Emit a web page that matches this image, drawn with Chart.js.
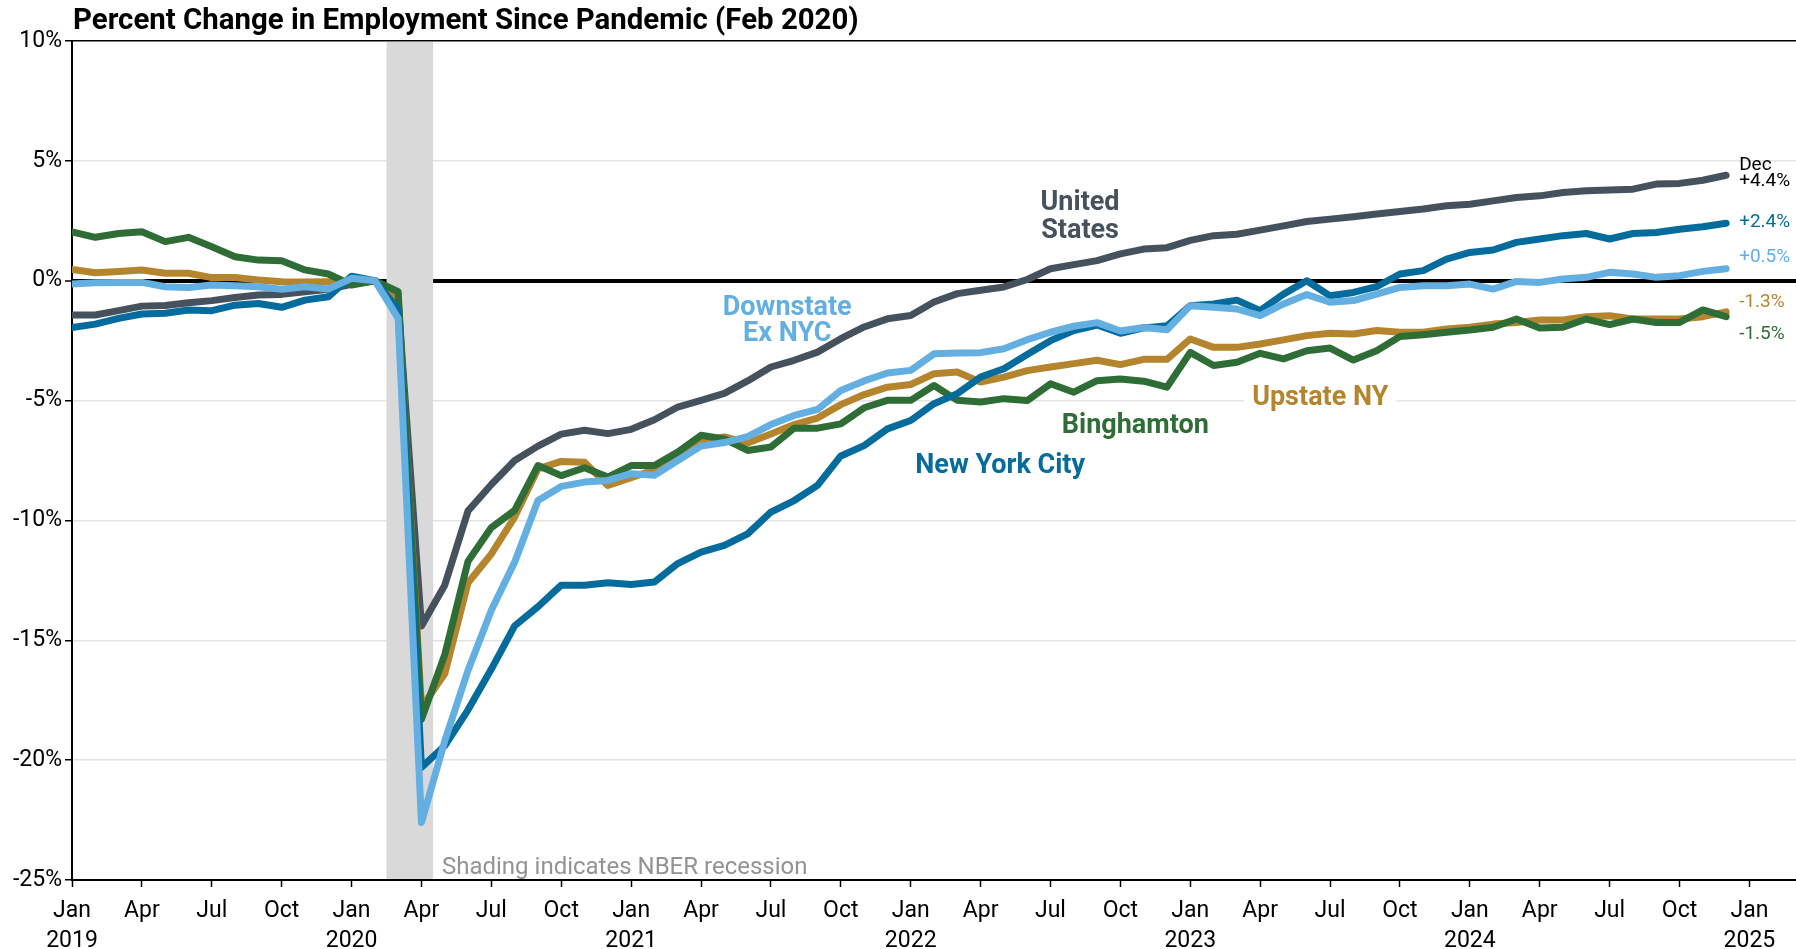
<!DOCTYPE html>
<html>
<head>
<meta charset="utf-8">
<script src="https://cdn.jsdelivr.net/npm/chart.js@4.4.1/dist/chart.umd.min.js"></script>
<style>
  html, body { margin: 0; padding: 0; background: #fff; }
  #wrap { width: 1796px; height: 949px; }
</style>
</head>
<body>
<div id="wrap"><canvas id="line-chart"></canvas></div>
<script>
// monthly, Jan 2019 .. Dec 2024, % change vs Feb 2020
const unitedStates = [
  -1.43,-1.43,-1.25,-1.06,-1.03,-0.92,-0.83,-0.70,-0.60,-0.57,-0.46,-0.36,
  -0.15,0,-0.9,-14.4,-12.7,-9.6,-8.5,-7.5,-6.9,-6.4,-6.24,-6.38,
  -6.2,-5.8,-5.27,-4.99,-4.7,-4.18,-3.6,-3.32,-2.98,-2.42,-1.93,-1.59,
  -1.45,-0.89,-0.54,-0.4,-0.26,0.05,0.5,0.67,0.84,1.12,1.32,1.38,
  1.68,1.88,1.94,2.11,2.29,2.47,2.57,2.67,2.78,2.89,2.99,3.13,
  3.19,3.33,3.47,3.54,3.68,3.75,3.78,3.82,4.03,4.06,4.19,4.4
];
const newYorkCity = [
  -1.95,-1.81,-1.57,-1.39,-1.36,-1.22,-1.25,-1.02,-0.95,-1.11,-0.81,-0.67,
  0.19,0,-1.2,-20.3,-19.4,-17.9,-16.2,-14.4,-13.6,-12.7,-12.7,-12.6,
  -12.67,-12.57,-11.8,-11.32,-11.04,-10.56,-9.65,-9.17,-8.54,-7.31,-6.88,-6.18,
  -5.83,-5.13,-4.71,-4.02,-3.67,-3.08,-2.5,-2.08,-1.85,-2.19,-1.97,-1.88,
  -1.04,-0.97,-0.81,-1.25,-0.56,0.0,-0.63,-0.49,-0.25,0.28,0.42,0.9,
  1.18,1.28,1.6,1.74,1.88,1.97,1.74,1.97,2.01,2.15,2.25,2.4
];
const downstateExNyc = [
  -0.14,-0.08,-0.07,-0.07,-0.25,-0.28,-0.18,-0.21,-0.25,-0.36,-0.25,-0.35,
  0.1,0,-1.57,-22.6,-19.2,-16.25,-13.75,-11.74,-9.17,-8.58,-8.4,-8.33,
  -8.05,-8.12,-7.5,-6.9,-6.75,-6.5,-6.0,-5.62,-5.37,-4.58,-4.18,-3.85,
  -3.74,-3.05,-3.02,-3.0,-2.84,-2.46,-2.15,-1.9,-1.75,-2.1,-1.95,-2.05,
  -1.04,-1.11,-1.18,-1.46,-0.97,-0.58,-0.9,-0.83,-0.56,-0.28,-0.21,-0.21,
  -0.14,-0.35,-0.03,-0.07,0.07,0.14,0.35,0.28,0.14,0.21,0.39,0.5
];
const upstateNy = [
  0.47,0.33,0.38,0.45,0.31,0.31,0.13,0.13,0.03,-0.04,-0.05,-0.04,
  -0.05,0,-0.7,-17.8,-16.4,-12.6,-11.4,-9.86,-7.85,-7.54,-7.57,-8.54,
  -8.22,-7.88,-7.25,-6.65,-6.52,-6.77,-6.39,-6.0,-5.73,-5.17,-4.75,-4.44,
  -4.33,-3.88,-3.81,-4.23,-4.02,-3.75,-3.6,-3.46,-3.32,-3.5,-3.28,-3.28,
  -2.43,-2.78,-2.78,-2.64,-2.47,-2.29,-2.19,-2.22,-2.08,-2.15,-2.15,-2.01,
  -1.94,-1.81,-1.74,-1.64,-1.64,-1.5,-1.46,-1.6,-1.6,-1.6,-1.5,-1.3
];
const binghamton = [
  2.04,1.81,1.97,2.04,1.63,1.81,1.42,1.0,0.86,0.83,0.45,0.28,
  -0.18,0,-0.46,-18.3,-15.6,-11.7,-10.3,-9.58,-7.71,-8.13,-7.8,-8.19,
  -7.71,-7.71,-7.15,-6.45,-6.6,-7.08,-6.94,-6.15,-6.15,-5.97,-5.3,-4.99,
  -4.99,-4.37,-4.99,-5.06,-4.92,-5.0,-4.3,-4.65,-4.17,-4.1,-4.19,-4.44,
  -2.99,-3.54,-3.4,-3.03,-3.26,-2.92,-2.81,-3.31,-2.92,-2.33,-2.25,-2.15,
  -2.06,-1.94,-1.6,-1.97,-1.94,-1.6,-1.83,-1.6,-1.74,-1.74,-1.22,-1.5
];

// x ticks every 3 months from Jan 2019 (month index 0) to Jan 2025 (72)
const xTickLabels = [
  ['Jan','2019'],'Apr','Jul','Oct',
  ['Jan','2020'],'Apr','Jul','Oct',
  ['Jan','2021'],'Apr','Jul','Oct',
  ['Jan','2022'],'Apr','Jul','Oct',
  ['Jan','2023'],'Apr','Jul','Oct',
  ['Jan','2024'],'Apr','Jul','Oct',
  ['Jan','2025']
];
const yTicks = [-25, -20, -15, -10, -5, 0, 5, 10];
const recession = [13.5, 15.5]; // Feb-Apr 2020 (month index)

const colors = {
  us: '#45525d',
  nyc: '#046c9d',
  down: '#63afe2',
  up: '#b5852e',
  bing: '#2e6d35'
};

const toPoints = arr => arr.map((v, i) => ({x: i, y: v}));

// series labels (month index, percent)
const seriesLabels = [
  {lines: ['United', 'States'], color: colors.us, x: 43.27, y: 3.22, step: 1.16},
  {lines: ['Downstate', 'Ex NYC'], color: colors.down, x: 30.7, y: -1.16, step: 1.08},
  {lines: ['New York City'], color: colors.nyc, x: 39.84, y: -7.75},
  {lines: ['Binghamton'], color: colors.bing, x: 45.64, y: -6.08},
  {lines: ['Upstate NY'], color: colors.up, x: 53.58, y: -4.9, bg: true}
];
const endLabels = [
  {data: unitedStates, color: '#000', y: 4.13},
  {data: newYorkCity, color: colors.nyc, y: 2.43},
  {data: downstateExNyc, color: colors.down, y: 0.98},
  {data: upstateNy, color: colors.up, y: -0.89},
  {data: binghamton, color: colors.bing, y: -2.22}
];

const extras = {
  id: 'extras',
  beforeDatasetsDraw(chart) {
    const {ctx, chartArea: a, scales: {x}} = chart;
    const x0 = x.getPixelForValue(recession[0]);
    const x1 = x.getPixelForValue(recession[1]);
    ctx.save();
    ctx.fillStyle = '#d9d9d9';
    ctx.fillRect(x0, a.top + 1, x1 - x0, a.bottom - a.top - 2);
    ctx.restore();
  },
  afterDatasetsDraw(chart) {
    const {ctx, chartArea: a, scales: {x, y}} = chart;
    ctx.save();

    // title
    ctx.fillStyle = '#000';
    ctx.textAlign = 'left';
    ctx.textBaseline = 'alphabetic';
    ctx.font = '700 29.4px Roboto';
    ctx.fillText('Percent Change in Employment Since Pandemic (Feb 2020)', a.left + 1, 28.5);

    ctx.textBaseline = 'middle';
    ctx.font = '400 24px Roboto';
    ctx.fillStyle = '#939393';
    ctx.fillText('Shading indicates NBER recession', x.getPixelForValue(15.88), y.getPixelForValue(-24.5));

    ctx.textAlign = 'center';
    ctx.font = '700 27px Roboto';
    seriesLabels.forEach(l => {
      const px = x.getPixelForValue(l.x);
      l.lines.forEach((t, i) => {
        const py = y.getPixelForValue(l.y - i * (l.step || 0));
        if (l.bg) {
          const w = ctx.measureText(t).width;
          ctx.fillStyle = '#fff';
          ctx.fillRect(px - w / 2 - 8, py - 15, w + 16, 30);
        }
        ctx.fillStyle = l.color;
        ctx.fillText(t, px, py);
      });
    });

    ctx.textAlign = 'left';
    ctx.font = '400 19px Roboto';
    const ex = x.getPixelForValue(71.56);
    ctx.fillStyle = '#000';
    ctx.fillText('Dec', ex, y.getPixelForValue(4.8));
    endLabels.forEach(l => {
      const v = l.data[l.data.length - 1];
      ctx.fillStyle = l.color;
      ctx.fillText((v > 0 ? '+' : '') + v.toFixed(1) + '%', ex, y.getPixelForValue(l.y));
    });
    ctx.restore();
  }
};

const lineStyle = {
  borderWidth: 7,
  pointRadius: 0,
  tension: 0,
  borderCapStyle: 'round',
  borderJoinStyle: 'round',
  fill: false
};

new Chart(document.getElementById('line-chart'), {
  type: 'line',
  data: {
    datasets: [
      {label: 'Downstate Ex NYC', data: toPoints(downstateExNyc), borderColor: colors.down, ...lineStyle},
      {label: 'New York City', data: toPoints(newYorkCity), borderColor: colors.nyc, ...lineStyle},
      {label: 'Binghamton', data: toPoints(binghamton), borderColor: colors.bing, ...lineStyle},
      {label: 'Upstate NY', data: toPoints(upstateNy), borderColor: colors.up, ...lineStyle},
      {label: 'United States', data: toPoints(unitedStates), borderColor: colors.us, ...lineStyle}
    ]
  },
  options: {
    responsive: true,
    maintainAspectRatio: false,
    devicePixelRatio: 1,
    animation: false,
    layout: {padding: {top: 41, right: 0, left: 0, bottom: 0}},
    plugins: {
      legend: {display: false},
      tooltip: {enabled: false},
      title: {display: false}
    },
    scales: {
      x: {
        type: 'linear',
        min: 0,
        max: 74,
        afterBuildTicks: axis => { axis.ticks = xTickLabels.map((_, i) => ({value: i * 3})); },
        afterFit: axis => { axis.height = 69; },
        ticks: {
          autoSkip: false,
          maxRotation: 0,
          padding: 10,
          color: '#000',
          font: {family: 'Roboto', size: 23, lineHeight: 1.27},
          callback: (v, i) => xTickLabels[i]
        },
        grid: {drawOnChartArea: false, drawTicks: true, tickLength: 7, tickColor: '#000', tickWidth: 1.5},
        border: {color: '#000', width: 2}
      },
      y: {
        min: -25,
        max: 10,
        afterBuildTicks: axis => { axis.ticks = yTicks.map(v => ({value: v})); },
        afterFit: axis => { axis.width = 72; },
        ticks: {
          padding: 3,
          color: '#000',
          font: {family: 'Roboto', size: 23},
          callback: v => v + '%'
        },
        grid: {
          color: c => (c.tick.value === 0 || c.tick.value === 10 || c.tick.value === -25) ? '#000' : '#e3e3e3',
          lineWidth: c => c.tick.value === 0 ? 4 : 1.5,
          tickColor: '#000',
          tickLength: 7,
          tickWidth: 1.5
        },
        border: {color: '#000', width: 2}
      }
    }
  },
  plugins: [extras]
});
</script>
</body>
</html>
